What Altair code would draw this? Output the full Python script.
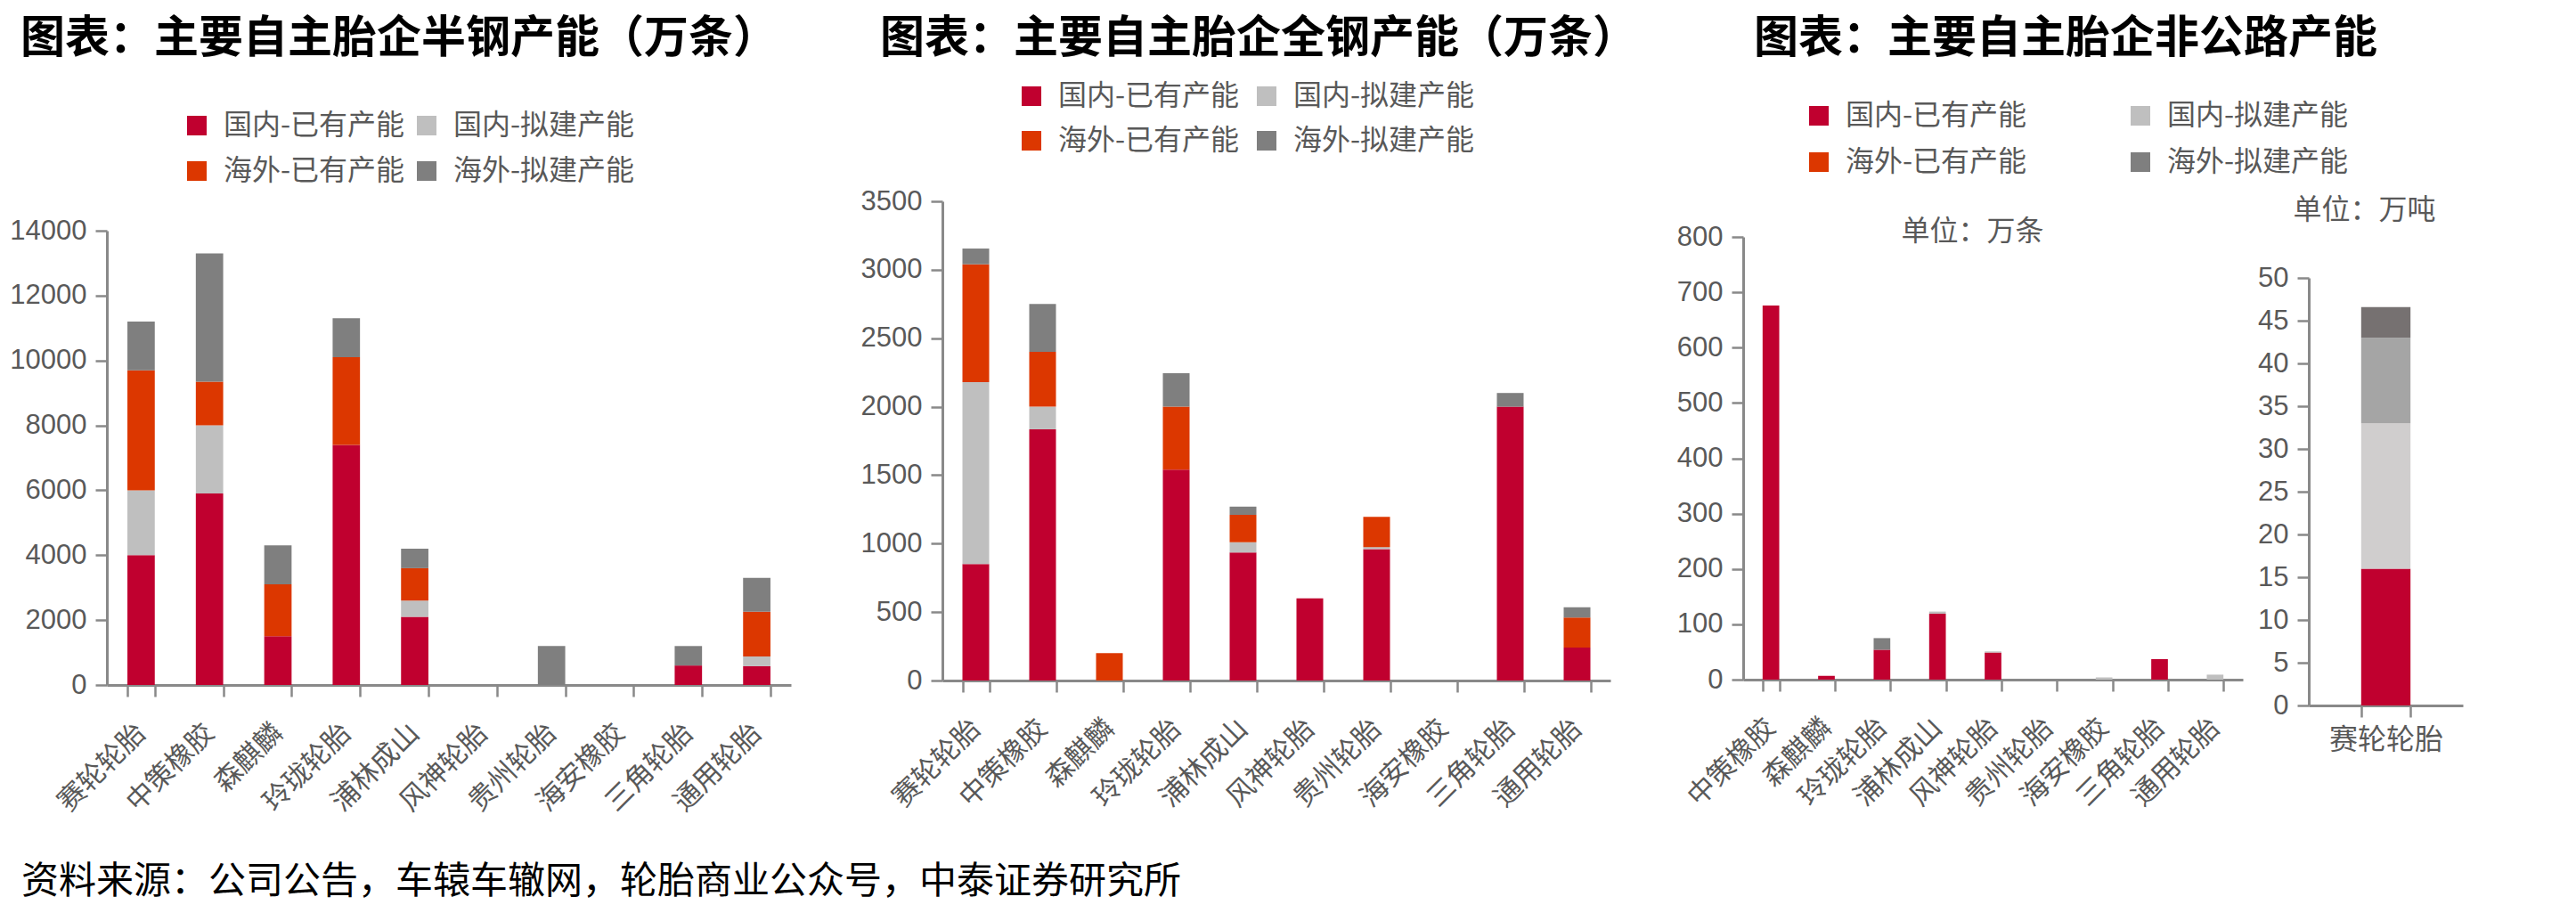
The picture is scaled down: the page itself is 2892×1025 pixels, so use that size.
import altair as alt
import pandas as pd

# ---------------- data ----------------
series = ["国内-已有产能", "国内-拟建产能", "海外-已有产能", "海外-拟建产能"]
colors = ["#C0002F", "#BFBFBF", "#DC3700", "#7F7F7F"]
colors_tonnes = ["#C0002F", "#D0CECE", "#A5A5A5", "#767171"]

companies = ["赛轮轮胎", "中策橡胶", "森麒麟", "玲珑轮胎", "浦林成山",
             "风神轮胎", "贵州轮胎", "海安橡胶", "三角轮胎", "通用轮胎"]

# 半钢产能（万条）
semi_dom_exist = [4000, 5900, 1500, 7400, 2100, 0, 0, 0, 600, 580]
semi_dom_plan = [2000, 2100, 0, 0, 500, 0, 0, 0, 0, 300]
semi_ovs_exist = [3700, 1350, 1600, 2700, 1000, 0, 0, 0, 0, 1380]
semi_ovs_plan = [1500, 3950, 1200, 1200, 600, 0, 1200, 0, 600, 1040]

# 全钢产能（万条）
all_dom_exist = [850, 1835, 0, 1540, 935, 600, 960, 0, 2000, 240]
all_dom_plan = [1330, 165, 0, 0, 75, 0, 15, 0, 0, 0]
all_ovs_exist = [860, 400, 200, 460, 200, 0, 220, 0, 0, 220]
all_ovs_plan = [115, 350, 0, 245, 60, 0, 0, 0, 100, 75]

# 非公路产能（万条）
otr_companies = ["中策橡胶", "森麒麟", "玲珑轮胎", "浦林成山", "风神轮胎",
                 "贵州轮胎", "海安橡胶", "三角轮胎", "通用轮胎"]
otr_dom_exist = [676, 7, 54, 119, 49, 0, 0, 37, 0]
otr_dom_plan = [0, 0, 0, 4, 2, 0, 4, 0, 9]
otr_ovs_exist = [0, 0, 0, 0, 0, 0, 0, 0, 0]
otr_ovs_plan = [0, 0, 21, 0, 0, 0, 0, 0, 0]

# 非公路产能（万吨）赛轮轮胎
sailun_companies = ["赛轮轮胎"]
sailun_segments = [[16.0], [17.0], [10.0], [3.6]]

semi_y_ticks = [0, 2000, 4000, 6000, 8000, 10000, 12000, 14000]
all_y_ticks = [0, 500, 1000, 1500, 2000, 2500, 3000, 3500]
otr_y_ticks = [0, 100, 200, 300, 400, 500, 600, 700, 800]
sailun_y_ticks = [0, 5, 10, 15, 20, 25, 30, 35, 40, 45, 50]

titles = ["图表：主要自主胎企半钢产能（万条）",
          "图表：主要自主胎企全钢产能（万条）",
          "图表：主要自主胎企非公路产能"]
unit_titles = ["单位：万条", "单位：万吨"]
source_text = "资料来源：公司公告，车辕车辙网，轮胎商业公众号，中泰证券研究所"

# ---------------- styling ----------------
CJK = "Noto Sans CJK SC"
NUM = "Liberation Sans"
GRAY_TXT = "#595959"
AX = "#898989"


def long_df(cats, cols):
    rows = []
    for i, c in enumerate(cats):
        for k, s in enumerate(series):
            rows.append({"company": c, "series": s, "k": k, "value": cols[k][i]})
    return pd.DataFrame(rows)


def panel(df, cats, W, axisW, H, ytop, yticks, pin, col_range, legend,
          title=None, angle=-45, unit=None):
    if angle == 0:
        xaxis = alt.Axis(labelAngle=0, labelAlign="center", labelBaseline="top",
                         labelFont=CJK, labelFontSize=32, labelColor=GRAY_TXT,
                         labelPadding=10, labelLimit=400, tickBand="extent",
                         tickSize=13, tickColor=AX, tickWidth=2.5,
                         domainColor=AX, domainWidth=3, grid=False, title=None)
    else:
        xaxis = alt.Axis(labelAngle=angle, labelAlign="right", labelBaseline="middle",
                         labelFont=CJK, labelFontSize=31, labelColor=GRAY_TXT,
                         labelPadding=36, labelLimit=400, tickBand="extent",
                         tickSize=13, tickColor=AX, tickWidth=2.5,
                         domainColor=AX, domainWidth=3, grid=False, title=None)
    ykw = dict(values=yticks, format="d", labelFont=NUM, labelFontSize=31,
               labelColor=GRAY_TXT, labelPadding=10, tickSize=13,
               tickColor=AX, tickWidth=2.5, domainColor=AX, domainWidth=3,
               grid=False)
    if unit is not None:
        text, tx, ty = unit
        ykw.update(title=text, titleAngle=0, titleX=tx, titleY=ty,
                   titleAlign="left", titleBaseline="middle", titleFont=CJK,
                   titleFontSize=32, titleFontWeight="normal", titleColor=GRAY_TXT)
    else:
        ykw.update(title=None)
    yaxis = alt.Axis(**ykw)
    ch = alt.Chart(df).mark_bar().encode(
        x=alt.X("company:N", sort=cats, axis=xaxis,
                scale=alt.Scale(range=[0, axisW], paddingInner=pin,
                                paddingOuter=pin / 2)),
        y=alt.Y("value:Q", stack="zero", axis=yaxis,
                scale=alt.Scale(domain=[yticks[0], yticks[-1]], range=[H, ytop],
                                nice=False, zero=True)),
        color=alt.Color("series:N", scale=alt.Scale(domain=series, range=col_range),
                        legend=legend),
        order=alt.Order("k:Q", sort="ascending"),
    ).properties(width=W, height=H)
    if title is not None:
        ch = ch.properties(title=title)
    return ch


def make_legend(lx, ly, colpad, rowpad):
    return alt.Legend(orient="none", legendX=lx, legendY=ly, columns=2,
                      direction="horizontal", title=None,
                      symbolType="square", symbolSize=484, symbolStrokeWidth=0,
                      labelFont=CJK, labelFontSize=32, labelColor=GRAY_TXT,
                      labelOffset=14, labelLimit=400, columnPadding=colpad,
                      rowPadding=rowpad, padding=0)


def main_title(text, dx, offset):
    return alt.TitleParams(text=text, anchor="start", frame="group", dx=dx,
                           offset=offset, font=CJK, fontSize=50,
                           fontWeight="bold", color="#000000")


df_semi = long_df(companies, [semi_dom_exist, semi_dom_plan, semi_ovs_exist, semi_ovs_plan])
df_all = long_df(companies, [all_dom_exist, all_dom_plan, all_ovs_exist, all_ovs_plan])
df_otr = long_df(otr_companies, [otr_dom_exist, otr_dom_plan, otr_ovs_exist, otr_ovs_plan])
df_sailun = long_df(sailun_companies, sailun_segments)

SP = 74
c1 = panel(df_semi, companies, 768 + 170 - SP, 768, 543, 33, semi_y_ticks, 0.6, colors,
           make_legend(85, -101, 8, 19), main_title(titles[0], -97, 56))
c2 = panel(df_all, companies, 750 + 149 - SP, 750, 538, 0, all_y_ticks, 0.6, colors,
           make_legend(84, -134, 14, 18), main_title(titles[1], -70, 23))
c3l = panel(df_otr, otr_companies, 561, 561, 537, 40, otr_y_ticks, 0.7, colors,
            make_legend(69, -112, 111, 20), main_title(titles[2], 12, 45),
            unit=(unit_titles[0], 177, 33))
c3r = panel(df_sailun, sailun_companies, 173, 173, 566, 86, sailun_y_ticks, 0.68,
            colors_tonnes, None, angle=0, unit=(unit_titles[1], -18, 9))

chart = alt.hconcat(
    c1, c2, c3l, c3r, spacing=SP, bounds="flush",
    title=alt.TitleParams(text=source_text, orient="bottom", anchor="start",
                          frame="group", dx=-96, offset=54, font=CJK,
                          fontSize=42, fontWeight="normal", color="#000000"),
).resolve_scale(color="independent").properties(
    padding={"left": 10, "top": 19, "right": 5, "bottom": 5},
    background="white",
).configure_view(stroke=None)

chart.save("out.html", embed_options={"renderer": "svg", "actions": False})
